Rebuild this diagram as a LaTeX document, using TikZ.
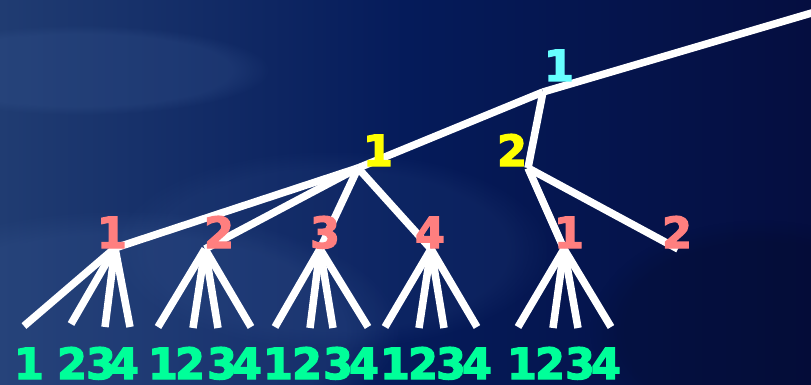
\documentclass[tikz,border=0pt]{standalone}
\usepackage{fontspec}
\setmainfont{DejaVu Sans}
\newfontfamily\labfont{DejaVu Sans}[BoldFont={DejaVu Sans Bold}, BoldFeatures={FakeBold=3}]
\usetikzlibrary{fadings}
\definecolor{bgL}{HTML}{203C72}
\definecolor{bgM}{HTML}{051B5A}
\definecolor{bgR}{HTML}{050E40}
\definecolor{glow}{HTML}{3A5A94}
\definecolor{cyanlab}{HTML}{66FFFF}
\definecolor{yellab}{HTML}{FFFF00}
\definecolor{salmlab}{HTML}{FF7F7F}
\definecolor{greenlab}{HTML}{00FF99}
\tikzset{
  branch/.style={draw=white, line width=7.5pt, line cap=butt, line join=miter},
  lab/.style={anchor=base, inner sep=0pt, font=\labfont\bfseries\fontsize{43}{43}\selectfont},
  toplab/.style={lab, text=cyanlab},
  midlab/.style={lab, text=yellab},
  sublab/.style={lab, text=salmlab},
  leaflab/.style={lab, text=greenlab},
}
\begin{document}
\begin{tikzpicture}[x=1pt, y=-1pt]
\useasboundingbox (0,0) rectangle (811,385);
% background
\shade[left color=bgL, right color=bgR, middle color=bgM, shading angle=90] (0,0) rectangle (811,385);
\fill[glow, fill opacity=0.25, path fading=circle with fuzzy edge 20 percent] (80,70) ellipse [x radius=190, y radius=45];
\fill[glow, fill opacity=0.25, path fading=circle with fuzzy edge 20 percent] (120,330) ellipse [x radius=280, y radius=120];
\fill[glow, fill opacity=0.15, path fading=circle with fuzzy edge 20 percent] (330,250) ellipse [x radius=220, y radius=100];
\fill[black!60!bgR, fill opacity=0.2, path fading=circle with fuzzy edge 20 percent] (760,330) ellipse [x radius=170, y radius=110];

% junctions
\coordinate (top) at (815,12);
\coordinate (R) at (543,92);
\coordinate (Y1) at (358,168);
\coordinate (Y2) at (528,168);
\coordinate (S1) at (115,248);
\coordinate (S2) at (205,249);
\coordinate (S3) at (320,249);
\coordinate (S4) at (431,249);
\coordinate (S5) at (564,249);
\coordinate (S6) at (678,249);
% leaves
\coordinate (L11) at (24,326);  \coordinate (L12) at (71,324);  \coordinate (L13) at (105,327); \coordinate (L14) at (130,327);
\coordinate (L21) at (158,327); \coordinate (L22) at (193,328); \coordinate (L23) at (218,328); \coordinate (L24) at (251,327);
\coordinate (L31) at (275,327); \coordinate (L32) at (310,328); \coordinate (L33) at (333,328); \coordinate (L34) at (368,327);
\coordinate (L41) at (385,327); \coordinate (L42) at (419,328); \coordinate (L43) at (444,328); \coordinate (L44) at (477,327);
\coordinate (L51) at (518,327); \coordinate (L52) at (553,328); \coordinate (L53) at (578,328); \coordinate (L54) at (611,327);

% branches
\draw[branch] (top) -- (R);
\draw[branch] (R) -- (Y1);
\draw[branch] (R) -- (Y2);
\foreach \s in {S1,S2,S3,S4} \draw[branch] (Y1) -- (\s);
\foreach \s in {S5,S6} \draw[branch] (Y2) -- (\s);
\foreach \i in {1,...,5} {
  \foreach \j in {1,...,4} \draw[branch] (S\i) -- (L\i\j);
}

% labels
\node[toplab] (tR) at (559,81) {1};
\node[midlab] (tY1) at (378,166) {1};
\node[midlab] (tY2) at (512,166) {2};
\node[sublab] (tS1) at (112,248) {1};
\node[sublab] (tS2) at (219,248) {2};
\node[sublab] (tS3) at (325,248) {3};
\node[sublab] (tS4) at (430,248) {4};
\node[sublab] (tS5) at (569,248) {1};
\node[sublab] (tS6) at (677,248) {2};
\foreach \x/\d [count=\k] in {29/1,72/2,101/3,124/4,163/1,190/2,222/3,247/4,278/1,307/2,338/3,364/4,395/1,423/2,451/3,477/4,522/1,550/2,580/3,606/4}
  \node[leaflab] (g\k) at (\x,379) {\d};
\end{tikzpicture}
\end{document}
